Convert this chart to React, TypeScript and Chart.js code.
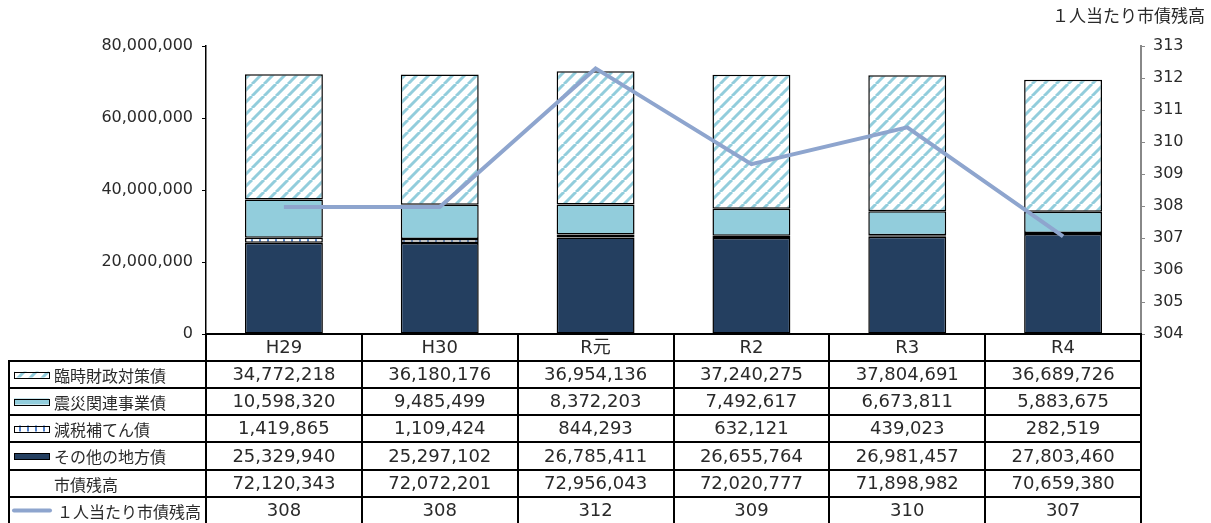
import React, { useEffect, useRef } from "react";
import { Chart, registerables } from "chart.js";

Chart.register(...registerables);

// ---- data ----
const categories = ["H29", "H30", "R元", "R2", "R3", "R4"];
const rinjiZaisei = [34772218, 36180176, 36954136, 37240275, 37804691, 36689726];
const shinsaiKanren = [10598320, 9485499, 8372203, 7492617, 6673811, 5883675];
const genzeiHoten = [1419865, 1109424, 844293, 632121, 439023, 282519];
const sonotaChihousai = [25329940, 25297102, 26785411, 26655764, 26981457, 27803460];
const shisaiZandaka = [72120343, 72072201, 72956043, 72020777, 71898982, 70659380];
const perCapita = [307.97, 307.97, 312.3, 309.31, 310.46, 307.05];
const perCapitaLabels = ["308", "308", "312", "309", "310", "307"];
const leftAxis = { min: 0, max: 80000000, step: 20000000 };
const rightAxis = { min: 304, max: 313, step: 1 };
const rowLabels = ["臨時財政対策債", "震災関連事業債", "減税補てん債", "その他の地方債", "市債残高", "１人当たり市債残高"];
const rightTitle = "１人当たり市債残高";

// ---- styles ----
const NAVY = "#243F60";
const LIGHT = "#92CDDC";
const LINE = "#8EA5CE";
const DOTBLUE = "#4F7FC8";
const TXT = "#2a2a2a";
const NUM_FONT = '"DejaVu Sans", "Noto Sans CJK JP", sans-serif';
const JP_FONT = '"Noto Sans CJK JP", sans-serif';

function makeHatch(): CanvasPattern | string {
  const s = 12;
  const c = document.createElement("canvas");
  c.width = s;
  c.height = s;
  const g = c.getContext("2d");
  if (!g) return "#fff";
  g.fillStyle = "#fff";
  g.fillRect(0, 0, s, s);
  g.strokeStyle = LIGHT;
  g.lineWidth = 3;
  for (let k = -1; k <= 1; k++) {
    g.beginPath();
    g.moveTo(k * s, s);
    g.lineTo(k * s + s, 0);
    g.stroke();
  }
  return g.createPattern(c, "repeat") || "#fff";
}

function makeDots(): CanvasPattern | string {
  const w = 8;
  const h = 8;
  const c = document.createElement("canvas");
  c.width = w;
  c.height = h;
  const g = c.getContext("2d");
  if (!g) return "#fff";
  g.fillStyle = "#fff";
  g.fillRect(0, 0, w, h);
  g.fillStyle = DOTBLUE;
  g.fillRect(3, 0, 2, h);
  return g.createPattern(c, "repeat") || "#fff";
}

const fmt = (v: number) => v.toLocaleString("en-US");

export default function App() {
  const ref = useRef<HTMLCanvasElement | null>(null);

  useEffect(() => {
    const canvas = ref.current;
    if (!canvas) return;
    const hatch = makeHatch();
    const dots = makeDots();

    const tablePlugin = {
      id: "dataTable",
      afterDraw(chart: any) {
        const ctx: CanvasRenderingContext2D = chart.ctx;
        const area = chart.chartArea;
        const xs = chart.scales.x;
        const L = Math.round(area.left);
        const R = Math.round(area.right);
        const top = Math.round(area.bottom);
        const rowH = 27.1;
        const n = categories.length;
        const colW = (R - L) / n;
        const legL = 9;
        const H = chart.height;
        const rowY = (k: number) => Math.round(top + k * rowH);

        ctx.save();
        // title
        ctx.fillStyle = TXT;
        ctx.font = `17px ${JP_FONT}`;
        ctx.textAlign = "right";
        ctx.textBaseline = "middle";
        ctx.fillText(rightTitle, 1205, 16);

        // grid lines
        ctx.strokeStyle = "#000";
        ctx.lineWidth = 2;
        ctx.beginPath();
        ctx.moveTo(L - 1, rowY(0));
        ctx.lineTo(R + 1, rowY(0));
        for (let k = 1; k <= 6; k++) {
          ctx.moveTo(legL - 1, rowY(k));
          ctx.lineTo(R + 1, rowY(k));
        }
        ctx.moveTo(legL, rowY(1) - 1);
        ctx.lineTo(legL, H + 2);
        for (let j = 0; j <= n; j++) {
          const x = Math.round(L + j * colW);
          ctx.moveTo(x, rowY(0) - 1);
          ctx.lineTo(x, H + 2);
        }
        ctx.stroke();

        // header + values
        ctx.fillStyle = TXT;
        ctx.textAlign = "center";
        ctx.textBaseline = "middle";
        ctx.font = `18px ${NUM_FONT}`;
        const rows = [
          categories,
          rinjiZaisei.map(fmt),
          shinsaiKanren.map(fmt),
          genzeiHoten.map(fmt),
          sonotaChihousai.map(fmt),
          shisaiZandaka.map(fmt),
          perCapitaLabels,
        ];
        rows.forEach((row, k) => {
          const cy = (rowY(k) + rowY(k + 1)) / 2 + 1;
          row.forEach((t, i) => {
            ctx.fillText(String(t), xs.getPixelForValue(i), cy);
          });
        });

        // legend column
        ctx.textAlign = "left";
        ctx.font = `16px ${JP_FONT}`;
        rowLabels.forEach((t, r) => {
          const k = r + 1;
          const cy = (rowY(k) + rowY(k + 1)) / 2;
          const kx = 14;
          const kw = 35;
          const kh = 6;
          if (r <= 3) {
            const fill = r === 0 ? hatch : r === 1 ? LIGHT : r === 2 ? dots : NAVY;
            ctx.fillStyle = fill as any;
            ctx.fillRect(kx, cy - kh / 2, kw, kh);
            ctx.lineWidth = 1;
            ctx.strokeStyle = "#000";
            ctx.strokeRect(kx + 0.5, Math.round(cy - kh / 2) + 0.5, kw, kh);
          } else if (r === 5) {
            ctx.strokeStyle = LINE;
            ctx.lineWidth = 4;
            ctx.lineCap = "round";
            ctx.beginPath();
            ctx.moveTo(14, cy);
            ctx.lineTo(50, cy);
            ctx.stroke();
          }
          ctx.fillStyle = TXT;
          ctx.fillText(t, r === 5 ? 57 : 54, cy + 1);
        });
        ctx.restore();
      },
    };

    const barCommon = {
      borderColor: "#000",
      borderWidth: 1.5,
      borderSkipped: false,
      order: 1,
      stack: "s",
      yAxisID: "y",
      categoryPercentage: 1,
      barPercentage: 0.5,
    };

    const chart = new Chart(canvas, {
      type: "bar",
      data: {
        labels: categories,
        datasets: [
          {
            type: "line",
            label: rowLabels[5],
            data: perCapita,
            yAxisID: "y2",
            borderColor: LINE,
            borderWidth: 4,
            pointRadius: 0,
            tension: 0,
            order: 0,
            fill: false,
          } as any,
          { ...barCommon, label: rowLabels[3], data: sonotaChihousai, backgroundColor: NAVY },
          { ...barCommon, label: rowLabels[2], data: genzeiHoten, backgroundColor: dots },
          { ...barCommon, label: rowLabels[1], data: shinsaiKanren, backgroundColor: LIGHT },
          { ...barCommon, label: rowLabels[0], data: rinjiZaisei, backgroundColor: hatch },
        ],
      },
      options: {
        responsive: false,
        animation: false,
        layout: { padding: { top: 46, bottom: 189, left: 0, right: 0 } },
        plugins: { legend: { display: false }, tooltip: { enabled: false }, title: { display: false } },
        scales: {
          x: { display: false, stacked: true, offset: true },
          y: {
            position: "left",
            stacked: true,
            min: leftAxis.min,
            max: leftAxis.max,
            ticks: {
              stepSize: leftAxis.step,
              callback: (v: any) => fmt(Number(v)),
              color: TXT,
              font: { family: NUM_FONT, size: 16 },
              padding: 9,
            },
            grid: { drawOnChartArea: false, color: "#000", tickLength: 4, lineWidth: 1 },
            border: { color: "#000", width: 1.5 },
            afterFit: (s: any) => {
              s.width = 206;
            },
          },
          y2: {
            position: "right",
            min: rightAxis.min,
            max: rightAxis.max,
            ticks: {
              stepSize: rightAxis.step,
              color: TXT,
              font: { family: NUM_FONT, size: 16 },
              padding: 8,
            },
            grid: { drawOnChartArea: false, color: "#888", tickLength: 4, lineWidth: 1 },
            border: { color: "#888", width: 2 },
            afterFit: (s: any) => {
              s.width = 70;
            },
          },
        },
      } as any,
      plugins: [tablePlugin],
    });
    return () => chart.destroy();
  }, []);

  return (
    <div style={{ position: "absolute", left: 0, top: 0, width: 1211, height: 523, background: "#fff" }}>
      <canvas ref={ref} width={1211} height={523} style={{ display: "block" }} />
    </div>
  );
}
